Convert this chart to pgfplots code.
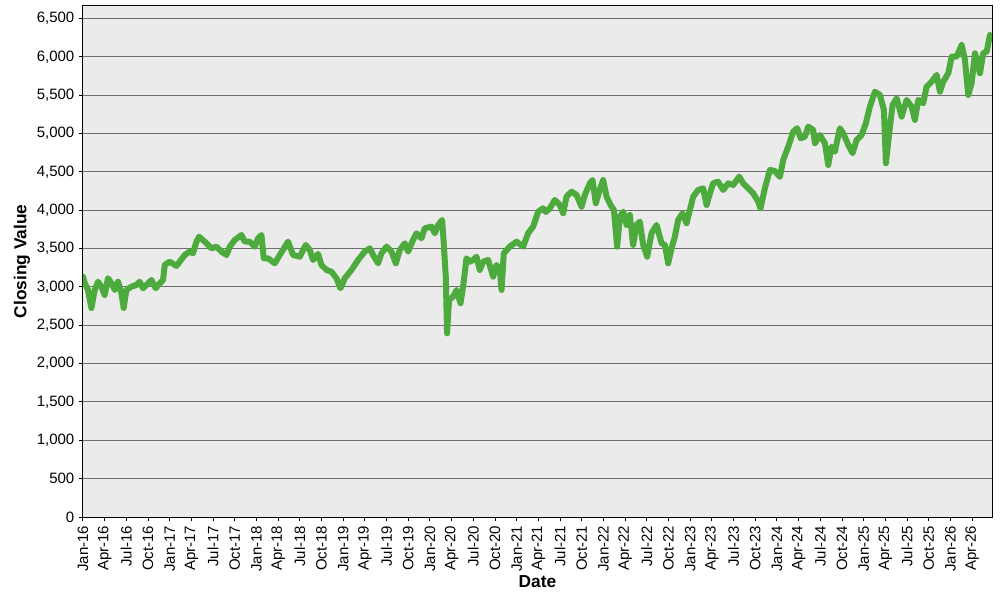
\documentclass[border=0pt]{standalone}
\usepackage{fontspec}
\setmainfont{Liberation Sans}
\usepackage{pgfplots}
\pgfplotsset{compat=1.18}
\definecolor{bg}{HTML}{EBEBEB}
\definecolor{gridc}{HTML}{6E6E6E}
\definecolor{lineg}{HTML}{4DAA3D}
\begin{document}
\begin{tikzpicture}
\path[use as bounding box] (-62.25pt,-62.25pt) rectangle (687.75pt,387.75pt);
\begin{axis}[
  at={(0,0)}, anchor=south west,
  scale only axis,
  width=681.75pt, height=383.25pt,
  xmin=2016, xmax=2026.479,
  ymin=0, ymax=6663,
  axis background/.style={fill=bg},
  axis line style={black, line width=0.75pt},
  ymajorgrids, grid style={gridc, line width=0.75pt},
  xtick={2016,2016.25,...,2026.3},
  xticklabels={Jan-16,Apr-16,Jul-16,Oct-16,Jan-17,Apr-17,Jul-17,Oct-17,Jan-18,Apr-18,Jul-18,Oct-18,Jan-19,Apr-19,Jul-19,Oct-19,Jan-20,Apr-20,Jul-20,Oct-20,Jan-21,Apr-21,Jul-21,Oct-21,Jan-22,Apr-22,Jul-22,Oct-22,Jan-23,Apr-23,Jul-23,Oct-23,Jan-24,Apr-24,Jul-24,Oct-24,Jan-25,Apr-25,Jul-25,Oct-25,Jan-26,Apr-26},
  ytick={0,500,...,6500},
  xtick pos=bottom, ytick pos=left,
  tick align=outside, major tick length=3pt,
  tick style={black, line width=0.75pt},
  /pgf/number format/assume math mode=true,
  yticklabel style={/pgf/number format/1000 sep={,}, font=\fontsize{11.25pt}{13pt}\selectfont},
  xticklabel style={rotate=90, anchor=east, font=\fontsize{11.25pt}{13pt}\selectfont},
  scaled y ticks=false,
  xlabel={Date}, ylabel={Closing Value},
  xlabel style={at={(axis description cs:0.5,-0.127)}, anchor=center, font=\fontsize{13pt}{15pt}\selectfont\bfseries},
  ylabel style={at={(axis description cs:-0.0671,0.5)}, anchor=center, font=\fontsize{13pt}{15pt}\selectfont\bfseries},
]
\addplot[lineg, line width=4.5pt, line join=round, line cap=round] table {
x y
2016.000 3134
2016.020 3051
2016.058 2960
2016.097 2725
2016.135 2960
2016.173 3068
2016.212 3003
2016.250 2895
2016.288 3113
2016.327 3047
2016.366 2960
2016.404 3068
2016.443 2917
2016.469 2725
2016.500 2960
2016.558 3003
2016.616 3025
2016.654 3068
2016.692 2982
2016.731 3025
2016.789 3090
2016.838 2982
2016.884 3047
2016.923 3090
2016.942 3286
2017.000 3329
2017.077 3273
2017.115 3329
2017.173 3416
2017.230 3460
2017.268 3439
2017.308 3590
2017.338 3655
2017.403 3590
2017.481 3504
2017.538 3525
2017.596 3460
2017.654 3416
2017.692 3525
2017.749 3612
2017.827 3677
2017.865 3590
2017.922 3590
2017.980 3525
2018.018 3634
2018.057 3677
2018.084 3373
2018.133 3373
2018.211 3308
2018.268 3416
2018.364 3590
2018.422 3416
2018.499 3394
2018.568 3547
2018.614 3482
2018.652 3351
2018.710 3430
2018.749 3286
2018.807 3221
2018.864 3199
2018.922 3113
2018.968 2982
2019.018 3113
2019.095 3221
2019.171 3351
2019.248 3460
2019.306 3504
2019.344 3416
2019.402 3308
2019.441 3439
2019.499 3525
2019.556 3460
2019.606 3308
2019.652 3482
2019.710 3569
2019.748 3460
2019.805 3612
2019.845 3699
2019.902 3634
2019.940 3765
2020.017 3786
2020.056 3699
2020.094 3808
2020.140 3873
2020.159 3569
2020.182 3134
2020.197 2395
2020.220 2830
2020.267 2873
2020.306 2960
2020.352 2787
2020.382 3003
2020.421 3373
2020.459 3329
2020.497 3351
2020.536 3394
2020.574 3221
2020.613 3329
2020.670 3351
2020.728 3134
2020.767 3286
2020.805 3221
2020.825 2960
2020.851 3439
2020.920 3525
2020.998 3590
2021.074 3525
2021.131 3699
2021.189 3786
2021.247 3981
2021.304 4025
2021.336 3977
2021.382 4025
2021.439 4134
2021.497 4068
2021.535 3960
2021.574 4177
2021.632 4242
2021.690 4199
2021.747 4046
2021.785 4199
2021.843 4351
2021.874 4394
2021.912 4091
2021.950 4242
2021.996 4394
2022.036 4177
2022.082 4068
2022.120 4003
2022.158 3525
2022.189 3916
2022.227 3981
2022.266 3808
2022.304 3938
2022.342 3547
2022.381 3808
2022.419 3851
2022.458 3547
2022.504 3394
2022.554 3699
2022.612 3808
2022.670 3569
2022.708 3547
2022.746 3308
2022.785 3504
2022.823 3655
2022.861 3873
2022.912 3960
2022.958 3830
2022.996 4003
2023.034 4177
2023.092 4264
2023.149 4286
2023.189 4068
2023.227 4221
2023.265 4351
2023.322 4372
2023.380 4264
2023.438 4351
2023.495 4329
2023.565 4438
2023.611 4351
2023.668 4286
2023.726 4221
2023.784 4112
2023.811 4025
2023.861 4290
2023.919 4525
2023.976 4512
2024.034 4434
2024.072 4655
2024.130 4829
2024.187 5024
2024.233 5069
2024.273 4938
2024.322 4959
2024.360 5090
2024.418 5046
2024.437 4873
2024.495 4981
2024.553 4873
2024.591 4590
2024.630 4829
2024.668 4764
2024.725 5069
2024.764 5003
2024.822 4851
2024.872 4743
2024.918 4916
2024.976 4981
2025.025 5134
2025.071 5350
2025.129 5546
2025.187 5503
2025.233 5307
2025.256 4612
2025.294 5003
2025.333 5372
2025.380 5460
2025.437 5220
2025.495 5438
2025.552 5350
2025.590 5177
2025.629 5438
2025.686 5395
2025.725 5611
2025.783 5676
2025.841 5764
2025.879 5546
2025.917 5676
2025.975 5786
2026.014 6002
2026.071 6002
2026.129 6155
2026.167 5959
2026.205 5503
2026.244 5655
2026.283 6047
2026.340 5786
2026.378 6047
2026.418 6068
2026.455 6285
};
\end{axis}
\end{tikzpicture}
\end{document}
